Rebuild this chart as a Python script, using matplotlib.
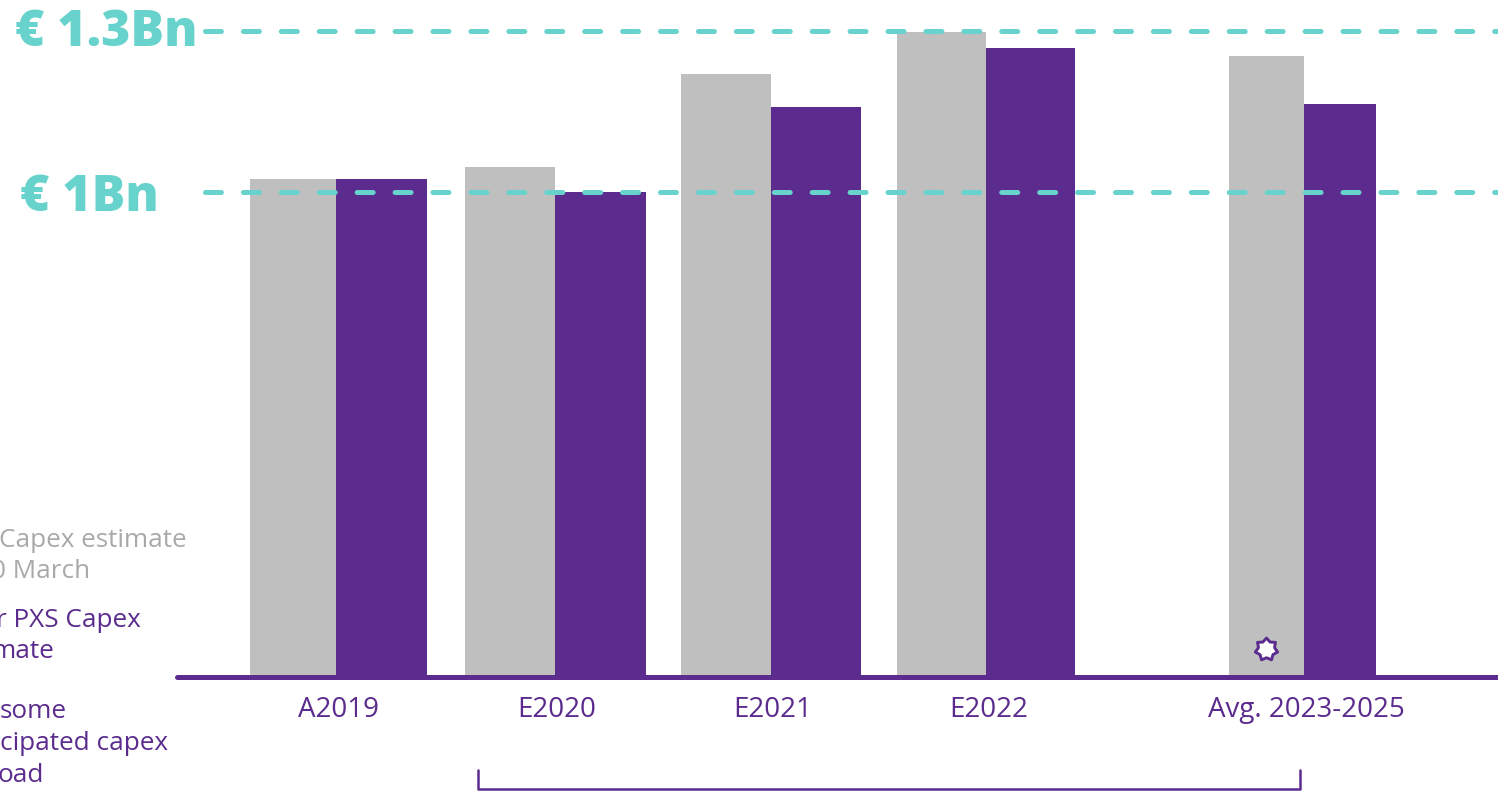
import matplotlib.pyplot as plt
import numpy as np
from matplotlib.lines import Line2D
from matplotlib.path import Path

plt.switch_backend("Agg")
plt.rcParams["font.family"] = ["Open Sans", "DejaVu Sans"]
plt.rcParams["lines.scale_dashes"] = False

# Capex by year, EUR bn
categories = ["A2019", "E2020", "E2021", "E2022", "Avg. 2023-2025"]
previous_estimate = [1.024, 1.047, 1.221, 1.299, 1.254]
current_estimate = [1.024, 1.000, 1.159, 1.269, 1.164]
reference_levels = [1.0, 1.3]
reference_labels = ["€ 1Bn", "€ 1.3Bn"]

PURPLE = "#5b2c8e"
GREY = "#bfbfbf"
GREY_TEXT = "#a9a9a9"
TEAL = "#68d3cc"

W, H = 1498, 793
fig = plt.figure(figsize=(W / 100, H / 100), dpi=100)
ax = fig.add_axes([0, 0, 1, 1])

# pixel layout -> data coordinates
X0_PX, X_UNIT = 336, 216
Y1_PX, Y_UNIT = 192, 535
FLOOR = 1.0 - (677 - Y1_PX) / Y_UNIT


def px_x(p):
    return (p - X0_PX) / X_UNIT


def px_y(p):
    return 1.0 - (p - Y1_PX) / Y_UNIT


ax.set_xlim(px_x(0), px_x(W))
ax.set_ylim(px_y(H), px_y(0))
ax.axis("off")

positions = [0, 1.014, 2.014, 3.01, 4.482]
grey_w = [0.40, 0.415, 0.415, 0.412, 0.347]
purple_w = [0.42, 0.42, 0.415, 0.412, 0.333]

for x, gw, pw, prev, cur in zip(positions, grey_w, purple_w,
                                 previous_estimate, current_estimate):
    ax.bar(x, prev - FLOOR, bottom=FLOOR, width=-gw, align="edge",
           color=GREY, zorder=2)
    ax.bar(x, cur - FLOOR, bottom=FLOOR, width=pw, align="edge",
           color=PURPLE, zorder=2)

# dashed reference lines with their labels
label_pos = {1.0: (20, 211), 1.3: (15, 46)}
for level, label in zip(reference_levels, reference_labels):
    ax.add_line(Line2D([px_x(205), px_x(W + 10)], [level, level], color=TEAL,
                       lw=3.6, dashes=(11.5, 15.8), dash_capstyle="round",
                       zorder=4))
    lx, ly = label_pos[level]
    ax.text(px_x(lx), px_y(ly), label, color=TEAL, fontsize=36,
            fontweight="heavy", ha="left", va="baseline", zorder=5)

# baseline
ax.add_line(Line2D([px_x(177), px_x(W + 10)], [FLOOR, FLOOR], color=PURPLE,
                   lw=3.6, solid_capstyle="round", zorder=3))

# category labels
for x, cat in zip(positions, categories):
    ax.text(x + 0.01, px_y(717), cat, color=PURPLE, fontsize=20,
            fontweight="medium", ha="center", va="baseline")

# seven-point star on the averaged bar
angles = np.pi / 2 + np.arange(14) * np.pi / 7
radii = np.where(np.arange(14) % 2 == 0, 1.0, 0.72)
star_verts = np.column_stack([radii * np.cos(angles), radii * np.sin(angles)])
star = Path(np.vstack([star_verts, star_verts[:1]]), closed=True)
ax.plot(positions[4] - 0.176, px_y(649), marker=star, markersize=16.5,
        markerfacecolor="white", markeredgecolor=PURPLE, markeredgewidth=2.1,
        zorder=5)

# bracket under the estimate years
bx0, bx1 = px_x(478), px_x(1300)
by0, by1 = px_y(770), px_y(789)
ax.plot([bx0, bx0, bx1, bx1], [by0, by1, by1, by0], color=PURPLE, lw=1.8,
        solid_joinstyle="round", solid_capstyle="round", zorder=3)

# notes running in from the left edge
notes = [
    ("Capex estimate", -1, 547, GREY_TEXT),
    ("0 March", -9, 578, GREY_TEXT),
    ("r PXS Capex", -4, 627, PURPLE),
    ("mate", -8, 658, PURPLE),
    ("some", 0, 718, PURPLE),
    ("cipated capex", 0, 750, PURPLE),
    ("oad", -3, 782, PURPLE),
]
for txt, xp, yp, col in notes:
    ax.text(px_x(xp), px_y(yp), txt, color=col, fontsize=18.8,
            fontweight="medium", ha="left", va="baseline")

fig.savefig("out.png", dpi=100)
